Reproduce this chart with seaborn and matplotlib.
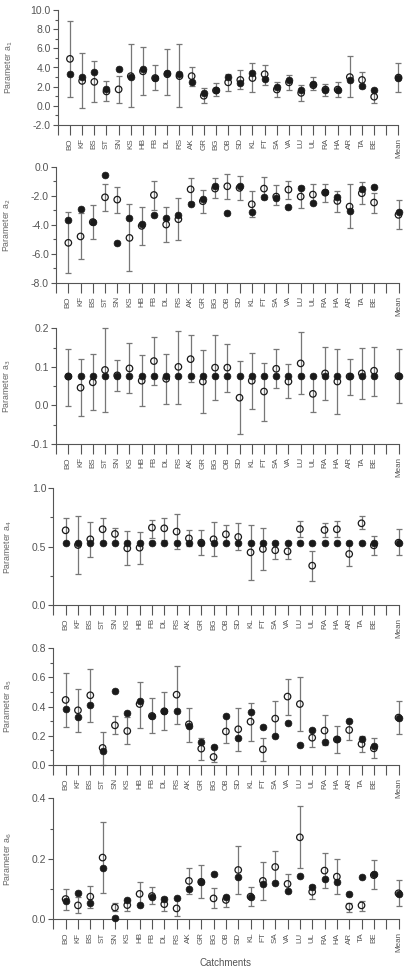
import numpy as np
import pandas as pd
import matplotlib
matplotlib.use("Agg")
import matplotlib.pyplot as plt
import seaborn as sns
from matplotlib.ticker import MultipleLocator, FixedLocator

sns.set_style("ticks")
plt.rcParams['font.family'] = ['Liberation Sans', 'DejaVu Sans']

catchments = ["BO", "KF", "BS", "ST", "SN", "KS", "HB", "FB", "DL", "RS", "AK", "GR", "BG",
              "OB", "SD", "KL", "FT", "SA", "VA", "LU", "UL", "RA", "HA", "AR", "TA", "BE"]

# a1: filled / open / error low / error high ; mean = filled, open, low, high
a1_fill = [3.30, 3.05, 3.55, 1.72, 3.80, 3.05, 3.80, 2.95, 3.45, 3.30, 2.45, 1.35, 1.65,
           3.05, 2.35, 3.40, 2.85, 1.95, 2.70, 1.65, 2.30, 1.65, 1.65, 2.70, 2.05, 1.60]
a1_open = [4.90, 2.60, 2.50, 1.50, 1.72, 3.10, 3.60, 2.90, 3.30, 3.10, 3.10, 1.05, 1.60,
           2.45, 2.70, 2.90, 3.30, 1.70, 2.45, 1.35, 2.15, 1.70, 1.70, 3.00, 2.70, 0.95]
a1_lo = [0.90, -0.25, 0.40, 0.47, 0.30, -0.10, 1.10, 1.65, 1.15, -0.15, 2.05, 0.30, 1.00,
         1.55, 1.75, 1.40, 2.20, 0.90, 1.65, 0.50, 1.65, 1.00, 0.90, 0.95, 1.90, 0.28]
a1_hi = [8.85, 5.50, 4.70, 2.55, 3.15, 6.50, 6.10, 4.25, 5.90, 6.40, 4.10, 1.90, 2.35,
         3.30, 3.70, 4.45, 4.30, 2.50, 3.20, 2.20, 3.05, 2.30, 2.45, 5.15, 3.55, 1.60]
a1_mean = [2.90, 2.95, 1.45, 4.45]

a2_fill = [-3.67, -2.89, -3.78, -0.55, -5.25, -3.55, -3.92, -3.33, -3.49, -3.33, -2.57, -2.20, -1.28,
           -3.19, -1.31, -3.12, -2.04, -2.11, -2.73, -1.47, -2.50, -1.70, -2.04, -3.03, -1.49, -1.38]
a2_open = [-5.23, -4.79, -3.80, -2.09, -2.25, -4.89, -4.06, -1.93, -3.97, -3.60, -1.54, -2.36, -1.49,
           -1.33, -1.44, -2.57, -1.49, -2.04, -1.56, -2.04, -1.90, -1.77, -2.34, -2.73, -1.81, -2.45]
a2_lo = [-7.32, -6.35, -4.98, -3.03, -3.19, -7.16, -5.37, -2.96, -5.14, -5.05, -2.40, -3.14, -2.16,
         -2.18, -2.25, -3.46, -2.20, -2.64, -2.22, -2.80, -2.50, -2.39, -3.07, -4.20, -2.57, -3.14]
a2_hi = [-3.12, -3.19, -2.64, -1.15, -1.35, -2.57, -2.73, -0.94, -2.73, -2.11, -0.73, -1.56, -0.78,
         -0.50, -0.60, -1.63, -0.71, -1.26, -0.94, -1.30, -1.19, -1.17, -1.65, -1.19, -1.03, -1.77]
a2_mean = [-3.07, -3.30, -4.31, -2.25]

a3_fill = [0.076] * 26
a3_open = [0.075, 0.046, 0.060, 0.092, 0.078, 0.096, 0.064, 0.115, 0.069, 0.100, 0.120, 0.062, 0.098,
           0.098, 0.020, 0.064, 0.036, 0.095, 0.062, 0.109, 0.030, 0.083, 0.062, 0.075, 0.083, 0.090]
a3_lo = [-0.002, -0.027, -0.013, -0.018, 0.037, 0.031, -0.001, 0.053, 0.005, 0.005, 0.060, -0.019, 0.013,
         0.035, -0.075, -0.009, -0.041, 0.044, 0.019, 0.029, -0.016, 0.014, -0.023, 0.027, 0.016, 0.024]
a3_hi = [0.147, 0.120, 0.133, 0.200, 0.119, 0.161, 0.131, 0.177, 0.134, 0.193, 0.182, 0.143, 0.182,
         0.160, 0.116, 0.137, 0.111, 0.146, 0.108, 0.190, 0.076, 0.151, 0.146, 0.121, 0.148, 0.152]
a3_mean = [0.076, 0.076, 0.006, 0.146]

a4_fill = [0.534] * 26
a4_open = [0.640, 0.514, 0.563, 0.649, 0.609, 0.486, 0.491, 0.663, 0.657, 0.629, 0.571, 0.534, 0.563,
           0.606, 0.583, 0.451, 0.480, 0.469, 0.460, 0.651, 0.337, 0.643, 0.649, 0.437, 0.700, 0.511]
a4_lo = [0.534, 0.269, 0.411, 0.534, 0.534, 0.340, 0.354, 0.570, 0.560, 0.477, 0.509, 0.426, 0.423,
         0.534, 0.469, 0.214, 0.303, 0.397, 0.394, 0.586, 0.206, 0.580, 0.580, 0.331, 0.649, 0.429]
a4_hi = [0.749, 0.760, 0.714, 0.743, 0.657, 0.634, 0.629, 0.726, 0.749, 0.780, 0.646, 0.640, 0.709,
         0.683, 0.703, 0.689, 0.663, 0.534, 0.534, 0.723, 0.466, 0.706, 0.723, 0.534, 0.760, 0.594]
a4_mean = [0.534, 0.534, 0.426, 0.649]

a5_fill = [0.384, 0.327, 0.411, 0.098, 0.507, 0.359, 0.439, 0.336, 0.373, 0.368, 0.267, 0.160, 0.126,
           0.338, 0.187, 0.366, 0.260, 0.201, 0.286, 0.137, 0.240, 0.158, 0.176, 0.304, 0.176, 0.130]
a5_open = [0.446, 0.375, 0.478, 0.117, 0.272, 0.233, 0.418, 0.336, 0.368, 0.482, 0.279, 0.112, 0.055,
           0.230, 0.245, 0.297, 0.107, 0.318, 0.469, 0.418, 0.187, 0.236, 0.175, 0.240, 0.144, 0.114]
a5_lo = [0.263, 0.229, 0.292, 0.000, 0.213, 0.142, 0.256, 0.217, 0.240, 0.281, 0.160, 0.034, 0.018,
         0.149, 0.096, 0.166, 0.030, 0.201, 0.343, 0.230, 0.126, 0.137, 0.080, 0.171, 0.087, 0.046]
a5_hi = [0.633, 0.523, 0.660, 0.229, 0.336, 0.327, 0.571, 0.460, 0.498, 0.681, 0.389, 0.183, 0.126,
         0.327, 0.394, 0.425, 0.187, 0.437, 0.590, 0.606, 0.250, 0.340, 0.266, 0.304, 0.200, 0.183]
a5_mean = [0.325, 0.325, 0.210, 0.439]

a6_fill = [0.060, 0.086, 0.054, 0.171, 0.004, 0.064, 0.047, 0.073, 0.067, 0.069, 0.099, 0.124, 0.150,
           0.075, 0.141, 0.075, 0.117, 0.120, 0.093, 0.143, 0.106, 0.134, 0.123, 0.084, 0.139, 0.149]
a6_open = [0.067, 0.046, 0.075, 0.204, 0.039, 0.047, 0.084, 0.077, 0.050, 0.036, 0.127, 0.124, 0.069,
           0.064, 0.163, 0.075, 0.127, 0.173, 0.117, 0.271, 0.091, 0.161, 0.141, 0.042, 0.046, 0.146]
a6_lo = [0.032, 0.022, 0.038, 0.086, 0.028, 0.026, 0.047, 0.049, 0.028, 0.011, 0.082, 0.071, 0.036,
         0.042, 0.084, 0.044, 0.064, 0.120, 0.091, 0.168, 0.066, 0.105, 0.084, 0.025, 0.028, 0.101]
a6_hi = [0.101, 0.075, 0.110, 0.321, 0.053, 0.064, 0.122, 0.106, 0.073, 0.069, 0.171, 0.180, 0.102,
         0.077, 0.243, 0.106, 0.190, 0.226, 0.149, 0.375, 0.113, 0.219, 0.198, 0.053, 0.060, 0.197]
a6_mean = [0.082, 0.086, 0.044, 0.130]

panels = [
    ("1", a1_fill, a1_open, a1_lo, a1_hi, a1_mean, (-2, 10), 2.0, 1.0),
    ("2", a2_fill, a2_open, a2_lo, a2_hi, a2_mean, (-8, 0), 2.0, 1.0),
    ("3", a3_fill, a3_open, a3_lo, a3_hi, a3_mean, (-0.1, 0.2), 0.1, 0.05),
    ("4", a4_fill, a4_open, a4_lo, a4_hi, a4_mean, (0, 1), 0.5, 0.25),
    ("5", a5_fill, a5_open, a5_lo, a5_hi, a5_mean, (0, 0.8), 0.2, 0.1),
    ("6", a6_fill, a6_open, a6_lo, a6_hi, a6_mean, (0, 0.4), 0.2, 0.1),
]

# axes boxes in pixels (left, top, right, bottom)
W, H = 413, 971
boxes = [(57.8, 10.0, 398.5, 125.0), (56.1, 167.0, 398.5, 283.0), (56.1, 328.3, 398.5, 444.0),
         (53.3, 488.3, 398.5, 605.0), (53.3, 648.3, 398.5, 765.0), (53.3, 798.3, 398.5, 919.3)]

fig = plt.figure(figsize=(W / 100, H / 100), dpi=100)
axis_col = "#555555"
bar_col = "#777777"
dot_col = "#1a1a1a"

xpos = list(range(26)) + [27]

for (name, fill, opn, lo, hi, mean, ylim, major, minor), (l, t, r, b) in zip(panels, boxes):
    ax = fig.add_axes([l / W, 1 - b / H, (r - l) / W, (b - t) / H])
    df = pd.DataFrame({
        "x": xpos,
        "fill": list(fill) + [mean[0]],
        "open": list(opn) + [mean[1]],
        "lo": list(lo) + [mean[2]],
        "hi": list(hi) + [mean[3]],
    })
    mid = (df["lo"] + df["hi"]) / 2
    ax.errorbar(df["x"], mid, yerr=[mid - df["lo"], df["hi"] - mid], fmt="none",
                ecolor=bar_col, elinewidth=0.9, capsize=2.4, capthick=0.9, zorder=2, clip_on=False)
    sns.scatterplot(data=df, x="x", y="open", ax=ax, marker="o", s=22, facecolors="none",
                    edgecolor=dot_col, linewidth=0.9, zorder=3, clip_on=False)
    sns.scatterplot(data=df, x="x", y="fill", ax=ax, marker="o", s=24, color=dot_col,
                    edgecolor=dot_col, linewidth=0.5, zorder=4, clip_on=False)

    ax.set_xlim(-1, 27)
    ax.set_ylim(*ylim)
    ax.xaxis.set_major_locator(FixedLocator(list(range(-1, 28))))
    ax.set_xticklabels([""] + catchments + ["", "Mean"], rotation=90, fontsize=5.8, color=axis_col)
    ax.get_xticklabels()[-1].set_color("#777777")
    ax.yaxis.set_major_locator(MultipleLocator(major))
    ax.yaxis.set_minor_locator(MultipleLocator(minor))
    ax.yaxis.set_major_formatter(matplotlib.ticker.FormatStrFormatter("%.1f"))
    ax.tick_params(axis="y", labelsize=7.5, colors=axis_col, length=3.6, width=0.8, pad=1.5)
    ax.tick_params(axis="y", which="minor", length=2.4, width=0.8, colors=axis_col)
    ax.tick_params(axis="x", length=7.5, width=0.8, colors=axis_col, pad=2)
    for s in ["top", "right"]:
        ax.spines[s].set_visible(False)
    for s in ["left", "bottom"]:
        ax.spines[s].set_color(axis_col)
        ax.spines[s].set_linewidth(0.8)
    ax.set_xlabel("")
    ax.set_ylabel("Parameter a$_{%s}$" % name, fontsize=6.3, color="#666666")
    ax.yaxis.set_label_coords(-0.125 if l > 55 else -0.115, 0.5)
    ax.patch.set_alpha(0)

ax.set_xlabel("Catchments", fontsize=7, color="#555555", labelpad=4)

fig.savefig("out.png", dpi=100)
